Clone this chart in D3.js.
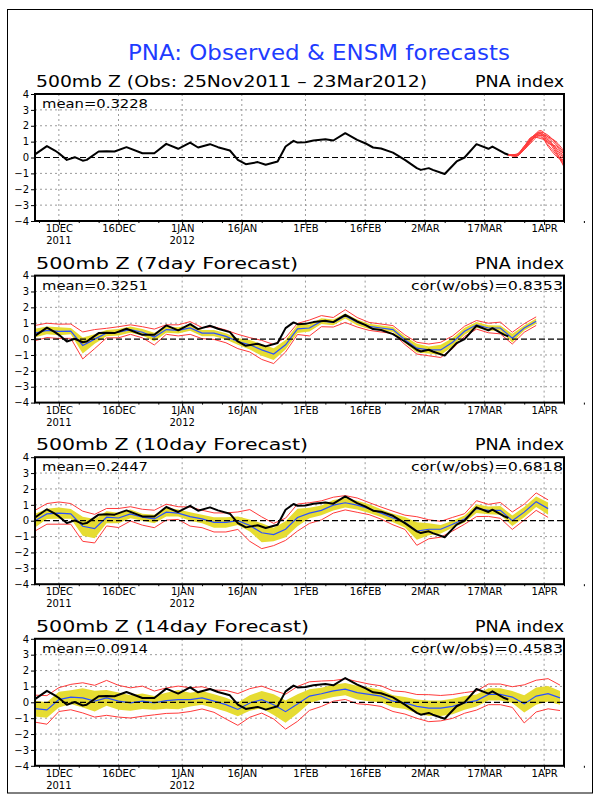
<!DOCTYPE html>
<html>
<head>
<meta charset="utf-8">
<script src="https://cdn.jsdelivr.net/npm/d3@7"></script>
<style>
  body { margin: 0; background: #fff; }
  svg text { font-family: "DejaVu Sans", sans-serif; fill: #000; }
</style>
</head>
<body>
<div id="chart"></div>
<script>
// all day numbers are days after 25 Nov 2011
const obsDays = [0,3,5,6,8,10,12,13,16,18,20,23,27,30,33,36,39,41,44,46,49,51,53,56,58,61,63,65,66,68,
                 70,73,75,78,81,83,85,87,90,93,96,97,99,100,103,106,108,111,114,115,118,119];
const obsVals = [0.2,0.72,0.44,0.27,-0.15,0.02,-0.2,-0.15,0.38,0.4,0.38,0.65,0.27,0.27,0.86,0.55,0.94,0.63,0.84,0.65,
                 0.44,-0.15,-0.42,-0.29,-0.46,-0.25,0.69,1.05,0.94,0.96,1.07,1.15,1.07,1.53,1.11,0.9,0.63,0.57,0.31,-0.15,
                 -0.67,-0.78,-0.67,-0.78,-1.04,-0.25,0,0.84,0.55,0.69,0.27,0.17];

// ensemble members of the latest forecast (top panel)
const memberDays = [119,121,123,125,127,129,131,133];
const members = [
  [0.15,0.1,0.6,1.2,1.7,1.3,0.8,0.2],
  [0.15,0.15,0.7,1.3,1.5,1.0,0.5,-0.3],
  [0.15,0.1,0.5,1.1,1.6,1.4,0.9,0.3],
  [0.15,0.2,0.7,1.2,1.3,0.8,0.2,-0.5],
  [0.15,0.1,0.6,1.3,1.6,1.1,0.6,-0.1],
  [0.15,0.1,0.5,1.0,1.4,1.2,0.4,-0.6],
  [0.15,0.15,0.6,1.2,1.5,0.9,0.7,0.0],
  [0.15,0.1,0.7,1.3,1.2,1.0,0.3,-0.4],
  [0.15,0.2,0.6,1.1,1.5,1.3,1.0,0.4],
  [0.15,0.1,0.5,1.2,1.4,0.7,0.1,-0.2]
];

// verifying days of the forecast series
const fcDays = [0,3,6,9,12,15,18,21,24,27,30,33,36,39,42,45,48,51,54,57,60,63,66,
                69,72,75,78,81,84,87,90,93,96,99,102,105,108,111,114,117,120,123,126,129,132];

// 7 day forecast: ensemble mean, half width of yellow band, half width of red envelope
const mean7 = [0.38,0.55,0.49,0.5,-0.4,0.0,0.38,0.43,0.6,0.43,0.13,0.6,0.55,0.7,0.38,0.38,0.17,-0.15,-0.36,-0.68,-0.94,-0.36,0.64,
               0.7,1.13,1.06,1.45,1.06,0.8,0.7,0.6,-0.04,-0.57,-0.68,-0.68,-0.2,0.49,0.9,0.7,0.7,0.06,0.7,1.13];
const band7 = [0.27,0.25,0.25,0.2,0.5,0.3,0.2,0.2,0.2,0.2,0.27,0.2,0.2,0.18,0.2,0.2,0.2,0.2,0.3,0.37,0.37,0.3,0.25,
               0.22,0.18,0.18,0.16,0.18,0.16,0.16,0.16,0.2,0.27,0.22,0.32,0.27,0.22,0.18,0.18,0.16,0.27,0.16,0.16];
const env7 = [0.48,0.45,0.45,0.45,0.85,0.6,0.3,0.35,0.3,0.35,0.5,0.3,0.35,0.4,0.35,0.4,0.4,0.45,0.45,0.6,0.6,0.45,0.35,
              0.5,0.35,0.3,0.4,0.3,0.25,0.25,0.25,0.3,0.37,0.37,0.48,0.4,0.32,0.27,0.3,0.37,0.37,0.27,0.27];

// 10 day forecast
const mean10 = [0.0,0.43,0.48,0.43,-0.35,-0.5,0.22,0.17,0.43,0.22,0.11,0.54,0.48,0.26,0.11,-0.11,-0.11,0.0,-0.3,-0.76,-0.87,-0.54,0.2,
                0.48,0.65,0.98,1.13,0.98,0.76,0.48,0.17,-0.1,-0.65,-0.54,-0.54,-0.22,0.11,0.76,0.65,0.65,0.0,0.54,1.2,0.76];
const band10 = [0.43,0.33,0.35,0.3,0.6,0.6,0.38,0.33,0.27,0.22,0.27,0.27,0.22,0.27,0.27,0.33,0.33,0.27,0.38,0.6,0.43,0.5,0.55,
                0.33,0.3,0.33,0.3,0.27,0.27,0.24,0.27,0.33,0.55,0.38,0.27,0.22,0.22,0.27,0.24,0.27,0.33,0.33,0.33,0.38];
const env10 = [0.65,0.65,0.7,0.65,0.95,0.9,0.55,0.6,0.45,0.5,0.55,0.5,0.4,0.6,0.55,0.6,0.6,0.55,1.0,1.0,0.7,0.7,0.85,
               0.65,0.6,0.5,0.45,0.45,0.38,0.38,0.43,0.45,0.9,0.6,0.5,0.43,0.33,0.5,0.38,0.5,0.55,0.5,0.55,0.55];

// 14 day forecast
const mean14 = [-0.4,-0.48,0.17,0.33,0.28,0.07,0.28,0.07,-0.04,0.07,-0.04,0.1,0.17,0.17,0.28,0.07,-0.15,-0.45,-0.04,0.17,-0.15,-0.59,-0.1,
                0.39,0.54,0.72,0.83,0.61,0.5,0.39,0.07,-0.04,-0.26,-0.37,-0.37,-0.26,-0.04,0.11,0.5,0.5,0.33,-0.1,0.39,0.54,0.28];
const band14 = [0.49,0.49,0.49,0.43,0.6,0.65,0.49,0.54,0.49,0.49,0.43,0.5,0.6,0.43,0.43,0.43,0.43,0.43,0.49,0.54,0.65,0.7,0.6,
                0.43,0.38,0.38,0.38,0.43,0.43,0.38,0.38,0.38,0.43,0.49,0.49,0.49,0.43,0.38,0.38,0.38,0.38,0.54,0.54,0.49,0.43];
const env14 = [0.85,0.9,0.75,0.8,0.95,1.0,1.1,1.0,0.95,0.95,0.75,0.8,0.85,0.75,0.7,0.7,0.9,1.0,0.9,0.85,0.9,1.1,1.1,
               0.9,0.8,0.65,0.65,0.7,0.65,0.65,0.65,0.7,0.75,0.85,0.8,0.75,0.65,0.6,0.65,0.65,0.65,1.2,1.0,0.95,0.8];

// text
const panelTitles = ['500mb Z (Obs: 25Nov2011 \u2013 23Mar2012)', '500mb Z (7day Forecast)',
                     '500mb Z (10day Forecast)', '500mb Z (14day Forecast)'];
const meanLabels = ['mean=0.3228', 'mean=0.3251', 'mean=0.2447', 'mean=0.0914'];
const corLabels = [null, 'cor(w/obs)=0.8353', 'cor(w/obs)=0.6818', 'cor(w/obs)=0.4583'];

// axis ticks
const tickDates = ['2011-12-01','2011-12-16','2012-01-01','2012-01-16','2012-02-01','2012-02-16','2012-03-02','2012-03-17','2012-04-01'];
const tickLabels = ['1DEC','16DEC','1JAN','16JAN','1FEB','16FEB','2MAR','17MAR','1APR'];
const yearLabels = ['2011','','2012','','','','','',''];
const yTicks = [-4,-3,-2,-1,0,1,2,3,4];

const width = 600;
const height = 800;
const left = 35, right = 564;
const panelH = 127;
const panelTops = [94, 275.6, 457.2, 638.8];

const yellow = '#e6dc32';
const red = '#ff3a3a';
const blue = '#2a50ff';

const t0 = new Date(Date.UTC(2011, 10, 25));
const toDate = d => d3.utcDay.offset(t0, d);

const svg = d3.select('#chart')
    .append('svg')
        .attr('width', width)
        .attr('height', height);

// outer frame
svg.append('rect')
    .attr('x', 7.5).attr('y', 9.5)
    .attr('width', 585).attr('height', 783.5)
    .attr('fill', 'none')
    .attr('stroke', '#000')
    .attr('stroke-width', 1);

// main title
svg.append('text')
    .attr('x', 128).attr('y', 60)
    .attr('font-size', 21)
    .attr('textLength', 382)
    .attr('lengthAdjust', 'spacingAndGlyphs')
    .style('fill', '#1e3cff')
    .text('PNA: Observed & ENSM forecasts');

const x = d3.scaleUtc()
    .domain([t0, toDate(133)])
    .range([left, right]);

const majors = tickDates.map(s => new Date(s + 'T00:00:00Z'));
const minors = [];
majors.forEach(m => {
    minors.push(d3.utcDay.offset(m, 5), d3.utcDay.offset(m, 10));
});
minors.push(d3.utcDay.offset(majors[0], -5));

const titleWidths = [391, 262, 272, 273];

const forecasts = [
    null,
    {mean: mean7, band: band7, env: env7},
    {mean: mean10, band: band10, env: env10},
    {mean: mean14, band: band14, env: env14}
];

panelTops.forEach((top, k) => drawPanel(top, k));

function drawPanel(top, k) {
    const bottom = top + panelH;
    const y = d3.scaleLinear().domain([-4, 4]).range([bottom, top]);
    const g = svg.append('g');

    // headers
    g.append('text')
        .attr('x', 36).attr('y', top - 7)
        .attr('font-size', 15)
        .attr('textLength', titleWidths[k])
        .attr('lengthAdjust', 'spacingAndGlyphs')
        .text(panelTitles[k]);
    g.append('text')
        .attr('x', 475).attr('y', top - 7)
        .attr('font-size', 15)
        .attr('textLength', 89)
        .attr('lengthAdjust', 'spacingAndGlyphs')
        .text('PNA index');

    // grid
    g.append('g')
        .selectAll('line')
        .data(yTicks.filter(v => Math.abs(v) < 4 && v !== 0))
        .join('line')
            .attr('x1', left).attr('x2', right)
            .attr('y1', d => y(d)).attr('y2', d => y(d))
            .attr('stroke', '#9a9a9a')
            .attr('stroke-dasharray', '2 3');
    g.append('g')
        .selectAll('line')
        .data(majors)
        .join('line')
            .attr('x1', d => x(d)).attr('x2', d => x(d))
            .attr('y1', top).attr('y2', bottom)
            .attr('stroke', '#9a9a9a')
            .attr('stroke-dasharray', '2 3');

    const fc = forecasts[k];
    if (fc) {
        const days = fcDays.slice(0, fc.mean.length);
        const rows = days.map((d, i) => ({
            date: toDate(d), m: fc.mean[i], b: fc.band[i], e: fc.env[i]
        }));
        const band = d3.area()
            .x(d => x(d.date))
            .y0(d => y(d.m - d.b))
            .y1(d => y(d.m + d.b));
        g.append('path')
            .datum(rows)
            .attr('fill', yellow)
            .attr('d', band);
        const envHi = d3.line().x(d => x(d.date)).y(d => y(d.m + d.e));
        const envLo = d3.line().x(d => x(d.date)).y(d => y(d.m - d.e));
        [envHi, envLo].forEach(fn => {
            g.append('path')
                .datum(rows)
                .attr('fill', 'none')
                .attr('stroke', red)
                .attr('stroke-width', 1)
                .attr('d', fn);
        });
        g.append('path')
            .datum(rows)
            .attr('fill', 'none')
            .attr('stroke', blue)
            .attr('stroke-width', 1.2)
            .attr('d', d3.line().x(d => x(d.date)).y(d => y(d.m)));
    }

    // zero line
    g.append('line')
        .attr('x1', left).attr('x2', right)
        .attr('y1', y(0)).attr('y2', y(0))
        .attr('stroke', '#000')
        .attr('stroke-width', 1.2)
        .attr('stroke-dasharray', '6 3');

    // ensemble members in top panel
    if (k === 0) {
        const memLine = d3.line()
            .curve(d3.curveMonotoneX)
            .x((d, i) => x(toDate(memberDays[i])))
            .y(d => y(d));
        g.append('g')
            .selectAll('path')
            .data(members)
            .join('path')
                .attr('fill', 'none')
                .attr('stroke', red)
                .attr('stroke-width', 1)
                .attr('d', memLine);
    }

    // observations
    const obsLine = d3.line()
        .x((d, i) => x(toDate(obsDays[i])))
        .y(d => y(d));
    g.append('path')
        .datum(obsVals)
        .attr('fill', 'none')
        .attr('stroke', '#000')
        .attr('stroke-width', 2)
        .attr('stroke-linejoin', 'round')
        .attr('d', obsLine);

    // axes
    const ya = g.append('g')
        .attr('transform', `translate(${left},0)`)
        .call(d3.axisLeft(y).tickValues(yTicks).tickSize(4).tickPadding(2).tickFormat(d3.format('d')));
    ya.select('.domain').remove();
    ya.selectAll('text').attr('font-size', 10).style('font-family', '"DejaVu Sans", sans-serif');

    const xa = g.append('g')
        .attr('transform', `translate(0,${bottom})`)
        .call(d3.axisBottom(x).tickValues(majors).tickSize(4).tickPadding(0)
            .tickFormat((d, i) => tickLabels[i]));
    xa.select('.domain').remove();
    xa.selectAll('text').attr('font-size', 10).style('font-family', '"DejaVu Sans", sans-serif');

    const xm = g.append('g')
        .attr('transform', `translate(0,${bottom})`)
        .call(d3.axisBottom(x).tickValues(minors).tickSize(2).tickFormat(''));
    xm.select('.domain').remove();

    g.append('g')
        .selectAll('text')
        .data(majors.filter((d, i) => yearLabels[i]))
        .join('text')
            .attr('x', d => x(d))
            .attr('y', bottom + 23)
            .attr('text-anchor', 'middle')
            .attr('font-size', 10)
            .text(d => yearLabels[majors.indexOf(d)]);

    // frame
    g.append('rect')
        .attr('x', left).attr('y', top)
        .attr('width', right - left).attr('height', panelH)
        .attr('fill', 'none')
        .attr('stroke', '#000')
        .attr('stroke-width', 2);

    // stats
    g.append('text')
        .attr('x', 42).attr('y', top + 14)
        .attr('font-size', 13)
        .attr('textLength', 106)
        .attr('lengthAdjust', 'spacingAndGlyphs')
        .text(meanLabels[k]);
    if (corLabels[k]) {
        g.append('text')
            .attr('x', 411).attr('y', top + 14)
            .attr('font-size', 13)
            .attr('textLength', 152)
            .attr('lengthAdjust', 'spacingAndGlyphs')
            .text(corLabels[k]);
    }
}
</script>
</body>
</html>
